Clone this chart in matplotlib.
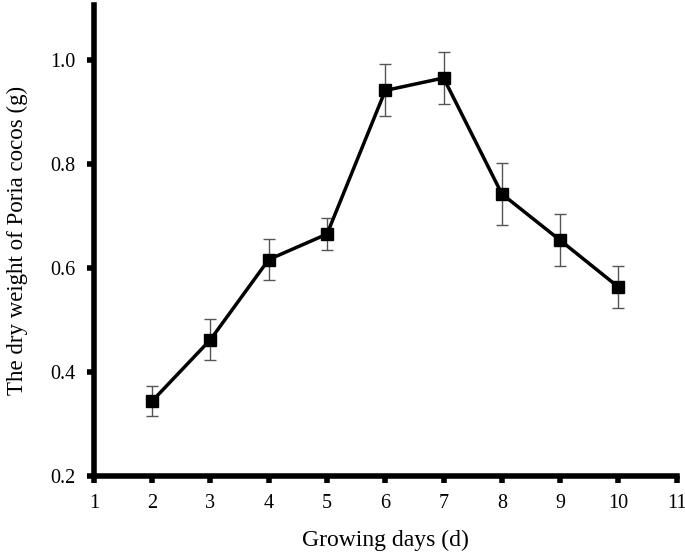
import matplotlib
matplotlib.use("Agg")
import matplotlib.pyplot as plt

days = [2, 3, 4, 5, 6, 7, 8, 9, 10]
dry_weight = [0.344, 0.462, 0.616, 0.665, 0.941, 0.965, 0.742, 0.653, 0.563]
err = [0.029, 0.040, 0.039, 0.030, 0.050, 0.050, 0.060, 0.050, 0.041]
xticks = [1, 2, 3, 4, 5, 6, 7, 8, 9, 10, 11]
yticks = [0.2, 0.4, 0.6, 0.8, 1.0]
ytick_labels = ["0.2", "0.4", "0.6", "0.8", "1.0"]

plt.rcParams['font.family'] = ['Liberation Serif', 'DejaVu Serif']

fig = plt.figure(figsize=(6.85, 5.52), dpi=100)
ax = fig.add_axes([0.137, 0.1377, 0.851, 0.853])

ax.errorbar(days, dry_weight, yerr=err, fmt='none', ecolor='#555555',
            elinewidth=1.0, capsize=4, capthick=1.0, zorder=2)
ax.plot(days, dry_weight, color='black', linewidth=2.5, marker='s',
        markersize=9, markerfacecolor='black', markeredgecolor='black', zorder=3)

ax.set_xlim(1, 11)
ax.set_ylim(0.2, 1.105)
ax.set_xticks(xticks)
ax.set_xticklabels([str(t) for t in xticks])
ax.set_yticks(yticks)
ax.set_yticklabels(ytick_labels)

for s in ['top', 'right']:
    ax.spines[s].set_visible(False)
for s in ['left', 'bottom']:
    ax.spines[s].set_linewidth(4)
ax.tick_params(axis='x', direction='out', length=5, width=4,
               labelsize=14.5, pad=8)
ax.tick_params(axis='y', direction='out', length=5, width=4,
               labelsize=14.5, pad=8)

ax.set_xlabel('Growing days (d)', fontsize=17, labelpad=12)
ax.set_ylabel('The dry weight of Poria cocos (g)', fontsize=16.5, labelpad=16)

fig.savefig('out.png', dpi=100)
